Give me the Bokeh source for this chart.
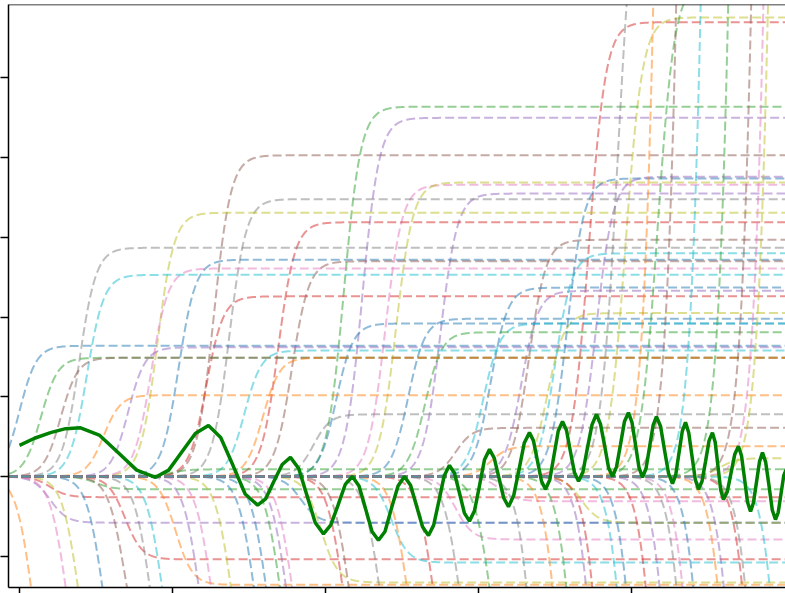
import numpy as np
from bokeh.plotting import figure
from bokeh.models import Span, FixedTicker, CustomJSTickFormatter
from bokeh.embed import file_html
from bokeh.resources import INLINE

# ---- data ----
# sigmoid step curves: colour, centre (x), final level (amplitude)
curve_colors = [
    "brown", "red", "olive", "green", "purple", "pink", "olive", "purple", "gray", "olive",
    "red", "brown", "gray", "blue", "brown", "pink", "cyan", "red", "blue", "purple",
    "cyan", "olive", "blue", "blue", "cyan", "green", "blue", "purple", "cyan", "green",
    "brown", "orange", "orange", "gray", "brown", "orange", "olive", "green", "blue", "purple",
    "gray", "orange", "green", "brown", "cyan", "green", "brown", "pink", "olive",
    "green", "red", "pink", "purple", "blue", "olive", "pink", "red", "cyan", "olive", "orange",
    "orange", "pink", "olive", "blue", "brown", "gray", "cyan", "purple", "pink", "olive",
    "blue", "blue", "green", "purple", "pink", "red", "brown", "gray", "orange", "red",
    "gray", "green", "gray", "orange", "green", "purple", "red", "cyan", "blue", "red",
    "purple", "gray", "pink", "blue", "orange", "purple", "red", "gray", "cyan",
]
curve_centers = [
    1.27, 3.72, 3.96, 2.12, 2.24, 2.39, 2.46, 2.75, 1.37, 0.90,
    1.69, 3.33, 0.39, 1.04, 1.78, 0.86, 0.44, 1.22, 3.08, 3.28,
    3.50, 3.45, 2.54, 2.07, 3.03, 2.65, 0.00, 0.71, 1.47, 0.14,
    0.27, 1.59, 0.55, 1.92, 2.85, 3.08, 4.58, 0.99, 3.58, 3.77,
    3.91, 4.22, 4.17, 4.37, 4.53, 4.71, 4.86, 4.94, 4.97,
    0.50, 0.20, 3.14, 0.20, 1.84, 3.67, 2.85, 0.69, 2.43, 1.97, 1.02,
    0.09, 0.31, 0.39, 0.55, 0.69, 0.86, 0.94, 1.18, 1.26, 1.39,
    1.54, 1.62, 1.71, 1.75, 1.79, 2.12, 2.16, 2.36, 2.54, 2.71,
    2.88, 3.08, 3.38, 3.55, 3.64, 3.77, 3.81, 3.97, 4.03, 4.16,
    4.25, 4.36, 4.40, 4.47, 4.63, 4.67, 4.79, 4.81, 4.97,
]
curve_levels = [
    4.03, 5.70, 5.76, 4.64, 4.50, 3.66, 3.69, 3.55, 3.48, 3.31,
    3.19, 2.97, 2.87, 2.72, 2.70, 2.61, 2.53, 2.26, 2.37, 2.33,
    2.80, 2.05, 1.98, 1.92, 1.92, 1.81, 1.64, 1.62, 1.58, 1.49,
    1.49, 1.49, 1.02, 0.78, 0.61, 0.38, 0.23, 0.09, 3.74, 3.76,
    8.0, 30.0, 6.2, 30.0, 30.0, 30.0, 30.0, 30.0, 30.0,
    -0.16, -0.26, -0.31, -0.58, -0.58, -0.58, -0.79, -1.04, -1.08, -1.33, -1.36,
    -3.2, -3.0, -3.0, -3.0, -2.5, -3.0, -3.0, -3.0, -3.0, -3.0,
    -3.0, -3.0, -3.0, -3.0, -3.0, -3.0, -3.0, -3.0, -3.0, -3.0,
    -3.0, -3.0, -6.0, -6.0, -6.0, -6.0, -6.0, -6.0, -6.0, -6.0,
    -6.0, -6.0, -6.0, -6.0, -6.0, -6.0, -6.0, -6.0, -6.0,
]

# solid green oscillating curve
wave_x = [0.000, 0.098, 0.203, 0.301, 0.399, 0.521, 0.644, 0.766, 0.889, 0.975,
          1.062, 1.149, 1.235, 1.315, 1.395, 1.475, 1.556, 1.609, 1.663, 1.717,
          1.771, 1.825, 1.879, 1.933, 1.987, 2.034, 2.082, 2.129, 2.176, 2.219,
          2.261, 2.304, 2.346, 2.389, 2.431, 2.474, 2.516, 2.556, 2.595, 2.634,
          2.673, 2.707, 2.742, 2.776, 2.810, 2.843, 2.876, 2.908, 2.941, 2.974,
          3.007, 3.039, 3.072, 3.103, 3.134, 3.165, 3.196, 3.230, 3.265, 3.299,
          3.333, 3.359, 3.386, 3.412, 3.438, 3.466, 3.493, 3.521, 3.549, 3.575,
          3.601, 3.627, 3.654, 3.683, 3.712, 3.742, 3.771, 3.797, 3.824, 3.850,
          3.876, 3.902, 3.928, 3.954, 3.980, 4.003, 4.026, 4.049, 4.072, 4.095,
          4.118, 4.141, 4.163, 4.190, 4.216, 4.242, 4.268, 4.289, 4.310, 4.332,
          4.353, 4.374, 4.395, 4.417, 4.438, 4.461, 4.484, 4.507, 4.529, 4.547,
          4.565, 4.583, 4.601, 4.626, 4.650, 4.675, 4.699, 4.719, 4.739, 4.758,
          4.778, 4.797, 4.817, 4.837, 4.856, 4.877, 4.899, 4.920, 4.941, 4.959,
          4.977, 4.995, 5.013]
wave_y = [0.39, 0.48, 0.55, 0.60, 0.61, 0.52, 0.30, 0.08, -0.01, 0.08,
          0.31, 0.54, 0.64, 0.49, 0.14, -0.22, -0.36, -0.28, -0.06, 0.15,
          0.24, 0.10, -0.24, -0.58, -0.72, -0.61, -0.36, -0.10, 0.00, -0.12,
          -0.40, -0.69, -0.80, -0.69, -0.40, -0.12, 0.00, -0.11, -0.37, -0.63,
          -0.74, -0.61, -0.30, 0.01, 0.14, 0.04, -0.21, -0.46, -0.56, -0.43,
          -0.11, 0.21, 0.34, 0.23, -0.02, -0.27, -0.38, -0.24, 0.09, 0.42,
          0.55, 0.45, 0.19, -0.06, -0.16, -0.04, 0.26, 0.57, 0.69, 0.58,
          0.31, 0.05, -0.06, 0.06, 0.36, 0.65, 0.78, 0.66, 0.39, 0.11,
          0.00, 0.12, 0.40, 0.69, 0.80, 0.68, 0.40, 0.11, -0.01, 0.10,
          0.37, 0.64, 0.75, 0.63, 0.33, 0.04, -0.09, 0.02, 0.29, 0.57,
          0.68, 0.55, 0.26, -0.04, -0.16, -0.06, 0.19, 0.45, 0.55, 0.43,
          0.13, -0.17, -0.29, -0.19, 0.04, 0.28, 0.38, 0.26, -0.03, -0.32,
          -0.44, -0.33, -0.07, 0.19, 0.30, 0.18, -0.12, -0.42, -0.54, -0.45,
          -0.22, 0.01, 0.10]

y_ticks = [-1, 0, 1, 2, 3, 4, 5]
x_ticks = [0, 1, 2, 3, 4]

tab10 = {"blue": "#1f77b4", "orange": "#ff7f0e", "green": "#2ca02c", "red": "#d62728",
         "purple": "#9467bd", "brown": "#8c564b", "pink": "#e377c2", "gray": "#7f7f7f",
         "olive": "#bcbd22", "cyan": "#17becf"}

x0, x1 = -0.0719, 5.0065
y0, y1 = -1.393, 5.922

p = figure(width=785, height=593, x_range=(x0, x1), y_range=(y0, y1),
           output_backend="svg", toolbar_location=None,
           min_border_left=8, min_border_right=0, min_border_top=4, min_border_bottom=6)
p.outline_line_color = None
p.xgrid.visible = False
p.ygrid.visible = False
p.background_fill_color = "white"
p.border_fill_color = "white"

for ax, ticks, tout in ((p.xaxis[0], x_ticks, 6), (p.yaxis[0], y_ticks, 8)):
    ax.ticker = FixedTicker(ticks=ticks)
    ax.formatter = CustomJSTickFormatter(code="return ''")
    ax.major_tick_out = tout
    ax.major_tick_in = 0
    ax.minor_tick_line_color = None
    ax.major_label_text_font_size = "1px"
    ax.major_label_standoff = 0
    ax.axis_line_width = 1.5
    ax.major_tick_line_width = 1.5
    ax.axis_line_color = "black"
    ax.major_tick_line_color = "black"

p.add_layout(Span(location=y1, dimension="width", line_color="black", line_width=1.5))

k = 18.0
xs_grid = np.linspace(x0, x1, 1500)
xs, ys, cols = [], [], []
for c, cen, amp in zip(curve_colors, curve_centers, curve_levels):
    yv = amp / (1.0 + np.exp(-k * (xs_grid - cen)))
    xs.append(xs_grid)
    ys.append(yv)
    cols.append(tab10[c])

p.multi_line(xs=xs, ys=ys, line_color=cols, line_alpha=0.5, line_width=2, line_dash="9 4")
p.line(wave_x, wave_y, line_color="green", line_width=3.5)

open("out.html", "w").write(file_html(p, INLINE))
